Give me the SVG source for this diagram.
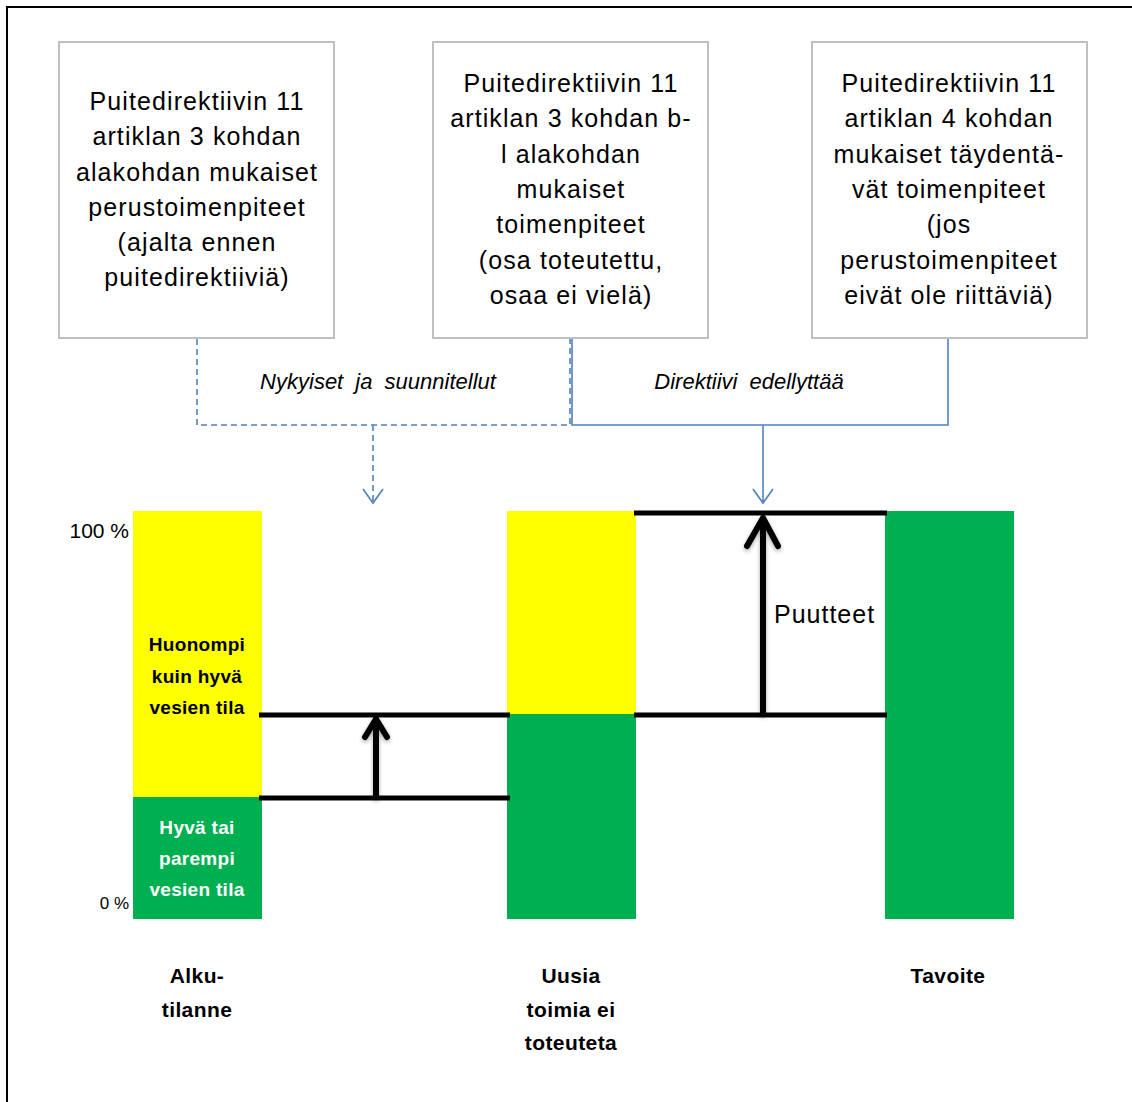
<svg xmlns="http://www.w3.org/2000/svg" width="1132" height="1102" viewBox="0 0 1132 1102">
<style>
.box{fill:#ffffff;stroke:#bfbfbf;stroke-width:2}
.bt{font-family:"Liberation Sans",Arial,sans-serif;font-size:25px;fill:#000;text-anchor:middle;letter-spacing:1.1px}
.lab{font-family:"Liberation Sans",Arial,sans-serif;font-size:22px;font-style:italic;fill:#000;text-anchor:middle;word-spacing:6px}
.bold{font-family:"Liberation Sans",Arial,sans-serif;font-size:19px;font-weight:bold;text-anchor:middle;letter-spacing:0.3px}
.cap{font-family:"Liberation Sans",Arial,sans-serif;font-size:21px;font-weight:bold;fill:#000;text-anchor:middle;letter-spacing:0.4px}
.pct{font-family:"Liberation Sans",Arial,sans-serif;fill:#000;text-anchor:end}
.conn{fill:none;stroke:#4f81bd;stroke-width:1.6}
.dash{stroke-dasharray:6 4}
.blk{stroke:#000;stroke-width:5;fill:none}
.arr{stroke:#000;stroke-width:6;fill:none;stroke-linecap:round;stroke-linejoin:round}
</style>
<defs>
<filter id="sh" x="-50%" y="-10%" width="200%" height="130%">
<feGaussianBlur in="SourceAlpha" stdDeviation="2"/>
<feOffset dx="0" dy="2" result="b"/>
<feComponentTransfer><feFuncA type="linear" slope="0.35"/></feComponentTransfer>
<feMerge><feMergeNode/><feMergeNode in="SourceGraphic"/></feMerge>
</filter>
</defs>
<rect x="7" y="7" width="1300" height="1300" fill="none" stroke="#000" stroke-width="2"/>

<g id="box1">
<rect class="box" x="59" y="42" width="275" height="296"/>
<text class="bt" x="197" y="110">Puitedirektiivin 11</text>
<text class="bt" x="197" y="145">artiklan 3 kohdan</text>
<text class="bt" x="197" y="181">alakohdan mukaiset</text>
<text class="bt" x="197" y="216">perustoimenpiteet</text>
<text class="bt" x="197" y="251">(ajalta ennen</text>
<text class="bt" x="197" y="286">puitedirektiiviä)</text>
</g>
<g id="box2">
<rect class="box" x="433" y="42" width="275" height="296"/>
<text class="bt" x="571" y="92">Puitedirektiivin 11</text>
<text class="bt" x="571" y="127">artiklan 3 kohdan b-</text>
<text class="bt" x="571" y="163">l alakohdan</text>
<text class="bt" x="571" y="198">mukaiset</text>
<text class="bt" x="571" y="233">toimenpiteet</text>
<text class="bt" x="571" y="269">(osa toteutettu,</text>
<text class="bt" x="571" y="304">osaa ei vielä)</text>
</g>
<g id="box3">
<rect class="box" x="812" y="42" width="275" height="296"/>
<text class="bt" x="949" y="92">Puitedirektiivin 11</text>
<text class="bt" x="949" y="127">artiklan 4 kohdan</text>
<text class="bt" x="949" y="163">mukaiset täydentä-</text>
<text class="bt" x="949" y="198">vät toimenpiteet</text>
<text class="bt" x="949" y="233">(jos</text>
<text class="bt" x="949" y="269">perustoimenpiteet</text>
<text class="bt" x="949" y="304">eivät ole riittäviä)</text>
</g>

<g id="connectors">
<path class="conn dash" d="M197,339 V425 H570 V339"/>
<path class="conn dash" d="M373,425 V503"/>
<path class="conn" d="M363,489 L373,503 L383,489"/>
<path class="conn" d="M572,339 V425 H948 V339"/>
<path class="conn" d="M763,425 V503"/>
<path class="conn" d="M753,489 L763,503 L773,489"/>
<text class="lab" x="378" y="389">Nykyiset ja suunnitellut</text>
<text class="lab" x="749" y="389">Direktiivi edellyttää</text>
</g>

<g id="bar1">
<rect x="133" y="511" width="129" height="286" fill="#ffff00"/>
<rect x="133" y="797" width="129" height="122" fill="#00b050"/>
<text class="bold" x="197" y="651" fill="#000">Huonompi</text>
<text class="bold" x="197" y="683" fill="#000">kuin hyvä</text>
<text class="bold" x="197" y="714" fill="#000">vesien tila</text>
<text class="bold" x="197" y="834" fill="#fff">Hyvä tai</text>
<text class="bold" x="197" y="865" fill="#fff">parempi</text>
<text class="bold" x="197" y="896" fill="#fff">vesien tila</text>
</g>
<g id="bar2">
<rect x="507" y="511" width="129" height="203" fill="#ffff00"/>
<rect x="507" y="714" width="129" height="205" fill="#00b050"/>
</g>
<g id="bar3">
<rect x="885" y="511" width="129" height="408" fill="#00b050"/>
</g>

<g id="axis">
<text class="pct" x="129" y="538" font-size="21">100 %</text>
<text class="pct" x="129" y="909" font-size="17">0 %</text>
</g>

<g id="levels">
<line class="blk" x1="259" y1="715" x2="510" y2="715"/>
<line class="blk" x1="259" y1="798" x2="510" y2="798"/>
<line class="blk" x1="634" y1="513" x2="887" y2="513"/>
<line class="blk" x1="634" y1="715" x2="887" y2="715"/>
<g filter="url(#sh)">
<path class="arr" d="M376,796 V719 M365,737 L376,719 L387,737"/>
<path class="arr" d="M763,713 V518 M747,546 L763,518 L778,546"/>
</g>
<text x="774" y="623" font-family="Liberation Sans,Arial,sans-serif" font-size="25" letter-spacing="1">Puutteet</text>
</g>

<g id="captions">
<text class="cap" x="197" y="983">Alku-</text>
<text class="cap" x="197" y="1017">tilanne</text>
<text class="cap" x="571" y="983">Uusia</text>
<text class="cap" x="571" y="1017">toimia ei</text>
<text class="cap" x="571" y="1050">toteuteta</text>
<text class="cap" x="948" y="983">Tavoite</text>
</g>
</svg>
